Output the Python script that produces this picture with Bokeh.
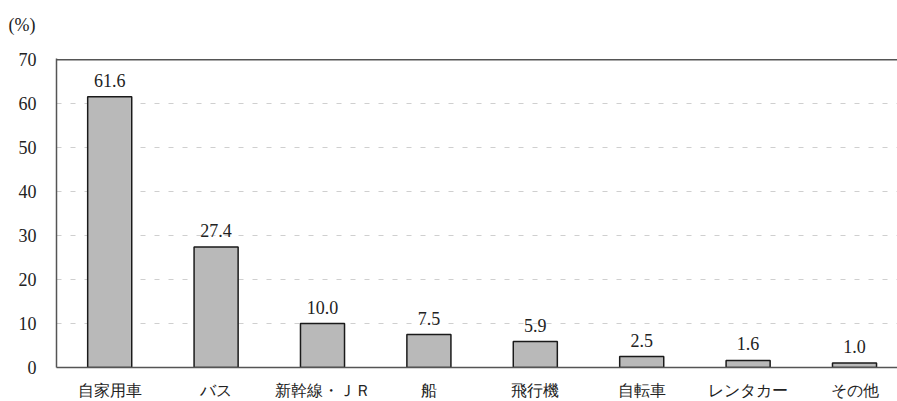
from bokeh.plotting import figure
from bokeh.models import Range1d, FixedTicker, ColumnDataSource
from bokeh.core.properties import value
from bokeh.embed import file_html
from bokeh.resources import INLINE

# Transport modes and their shares (%)
modes = ["自家用車", "バス", "新幹線・ＪＲ", "船", "飛行機", "自転車", "レンタカー", "その他"]
shares = [61.6, 27.4, 10.0, 7.5, 5.9, 2.5, 1.6, 1.0]
y_ticks = [0, 10, 20, 30, 40, 50, 60, 70]

FONT = "Liberation Serif"
INK = "#222222"
FRAME = "#555555"
xs = list(range(len(modes)))

src = ColumnDataSource(dict(
    x=xs,
    share=shares,
    label=[f"{v:.1f}" for v in shares],
))

x_range = Range1d(-0.5, 7.404)
p = figure(
    width=897, height=401,
    x_range=x_range, y_range=Range1d(0, 70.3),
    output_backend="svg", toolbar_location=None,
    min_border_left=56, min_border_right=0,
    min_border_top=58, min_border_bottom=0,
)
p.outline_line_color = None
p.background_fill_color = "white"

# unit label at the top left; the blank second line lifts it clear of the plot area
p.title.text = "(%)\n "
p.title.align = "left"
p.title.offset = -48
p.title.text_font = FONT
p.title.text_font_size = "18px"
p.title.text_font_style = "normal"
p.title.text_color = INK
p.title.text_line_height = 1.0
p.title.standoff = 8

# dashed horizontal gridlines
p.xgrid.visible = False
p.ygrid.ticker = FixedTicker(ticks=y_ticks[:-1])
p.ygrid.grid_line_color = "#cfcfcf"
p.ygrid.grid_line_dash = "5 9"
p.ygrid.grid_line_width = 1

# top border of the plot area
p.segment(x0=x_range.start, x1=x_range.end, y0=y_ticks[-1], y1=y_ticks[-1],
          line_color=FRAME, line_width=1.5)

# bars
p.vbar(x="x", top="share", width=0.414, bottom=0, source=src,
       fill_color="#b9b9b9", line_color="#1a1a1a", line_width=1.5)

# value labels above bars
p.text(x="x", y="share", text="label", source=src,
       text_align="center", text_baseline="bottom",
       y_offset=-10, text_font=value(FONT), text_font_size="18px",
       text_color=INK)

# axes
p.yaxis.ticker = FixedTicker(ticks=y_ticks)
p.yaxis.major_tick_line_color = None
p.yaxis.minor_tick_line_color = None
p.yaxis.axis_line_color = FRAME
p.yaxis.axis_line_width = 1.5
p.yaxis.major_label_text_font = FONT
p.yaxis.major_label_text_font_size = "18px"
p.yaxis.major_label_text_color = INK
p.yaxis.major_label_standoff = 14

xax = p.below[0]
xax.ticker = FixedTicker(ticks=xs)
xax.major_label_overrides = {i: m for i, m in zip(xs, modes)}
xax.major_tick_line_color = None
xax.minor_tick_line_color = None
xax.axis_line_color = FRAME
xax.axis_line_width = 1.5
xax.major_label_text_font = FONT
xax.major_label_text_font_size = "16px"
xax.major_label_text_color = INK
xax.major_label_standoff = 8

open("out.html", "w").write(file_html(p, INLINE))
